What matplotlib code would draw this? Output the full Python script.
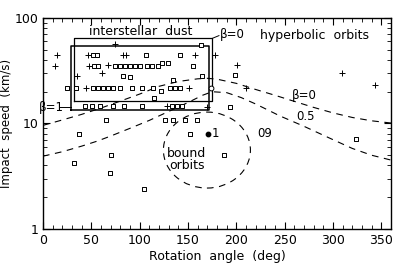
import matplotlib
matplotlib.use("Agg")
import matplotlib.pyplot as plt
from matplotlib.patches import Ellipse
from matplotlib.ticker import MultipleLocator, FixedLocator, FixedFormatter, NullFormatter, LogLocator

# measured impacts: open squares, plus signs, one filled dot
sq_x = [51.6, 55.7, 106.3, 141.4, 52.6, 56.8, 74.3, 79.4, 84.6, 89.8, 94.9, 100.1,
        107.3, 112.5, 118.7, 122.8, 129.0, 154.8, 82.6, 89.8, 134.2, 164.1,
        24.8, 34.1, 51.6, 56.8, 62.0, 67.1, 72.2, 79.5, 91.8, 102.2, 113.5, 121.8,
        131.1, 136.2, 141.4, 114.6, 43.3, 50.6, 58.8, 72.2, 83.6, 102.2, 133.1,
        138.3, 143.4, 65.0, 37.2, 125.9, 134.2, 146.5, 158.9, 163.0, 198.1, 193.0,
        151.7, 186.8, 32.0, 70.2, 69.1, 104.2, 324.0]
sq_y = [44.2, 44.2, 44.2, 44.2, 34.7, 34.7, 34.7, 34.7, 34.7, 34.7, 34.7, 34.7,
        34.7, 34.7, 34.7, 37.1, 37.1, 34.7, 27.9, 27.3, 25.6, 27.9,
        21.5, 21.5, 21.5, 21.5, 21.5, 21.5, 21.5, 21.5, 21.5, 21.5, 21.9, 20.1,
        21.9, 21.9, 21.9, 17.6, 14.5, 14.5, 14.5, 14.5, 14.5, 14.5, 14.5,
        14.5, 14.5, 10.7, 7.9, 10.7, 10.7, 10.7, 10.7, 56.0, 28.5, 14.2,
        7.9, 5.08, 4.26, 5.08, 3.36, 2.37, 7.2]
pl_x = [14.4, 12.4, 74.3, 46.4, 82.6, 85.7, 156.9, 47.5, 67.1, 60.9, 35.1, 44.4,
        150.7, 128.0, 169.2, 177.5, 200.2, 309.6, 343.7, 209.5]
pl_y = [44.2, 34.7, 56.1, 44.2, 44.2, 44.2, 44.2, 34.7, 36.2, 29.8, 27.9, 21.5,
        21.9, 14.5, 14.2, 44.2, 36.2, 29.8, 23.4, 21.5]
dot_x = [170.3]
dot_y = [8.0]
circ_x = [173.4]
circ_y = [21.5]

# boundary curves
b0_x = [0, 20, 40, 60, 80, 100, 120, 140, 160, 170, 180, 200, 220, 240, 260, 280, 300, 320, 340, 360]
b0_y = [9.6, 10.8, 12.2, 14.0, 16.3, 19.0, 22.5, 25.0, 26.5, 26.8, 26.3, 24.0, 21.0, 18.5, 16.2, 14.2,
        12.6, 11.4, 10.6, 10.1]
b05_x = [0, 20, 40, 56, 70, 90, 110, 130, 150, 165, 175, 190, 205, 220, 245, 270, 296, 320, 340, 360]
b05_y = [4.9, 5.4, 6.1, 6.8, 7.6, 9.0, 10.7, 13.0, 15.8, 18.5, 20.0, 19.6, 17.6, 15.3, 11.8, 9.4,
         7.3, 5.8, 5.0, 4.5]

# interstellar dust boxes (x0, x1, y0, y1)
box_b0 = (32, 175, 16.2, 64)
box_b1 = (29, 172, 13.3, 54)

fig = plt.figure(figsize=(4.15, 2.68), dpi=100)
ax = fig.add_axes([0.1036, 0.1455, 0.8386, 0.7875])

ax.plot(b0_x, b0_y, color="black", lw=0.8, ls=(0, (6, 5)))
ax.plot(b05_x, b05_y, color="black", lw=0.8, ls=(0, (6, 5)))

for (x0, x1, y0, y1), lw in [(box_b0, 0.9), (box_b1, 1.1)]:
    ax.plot([x0, x1, x1, x0, x0], [y0, y0, y1, y1, y0], color="black", lw=lw)

# bound orbit region
ell = Ellipse((0.471, 0.374), 0.25, 0.36, transform=ax.transAxes, fill=False,
              ec="black", lw=0.8, ls=(0, (6, 5)))
ax.add_patch(ell)

ax.scatter(sq_x, sq_y, marker="s", s=12, facecolors="white", edgecolors="black", lw=0.7, zorder=3)
ax.scatter(pl_x, pl_y, marker="+", s=14, color="black", lw=0.7, zorder=3)
ax.scatter(dot_x, dot_y, marker="o", s=10, color="black", zorder=3)
ax.scatter(circ_x, circ_y, marker="o", s=12, facecolors="white", edgecolors="black", lw=0.7, zorder=3)

ax.set_yscale("log")
ax.set_xlim(0, 360)
ax.set_ylim(1, 100)
ax.xaxis.set_major_locator(MultipleLocator(50))
ax.xaxis.set_minor_locator(MultipleLocator(10))
ax.yaxis.set_major_locator(FixedLocator([1, 10, 100]))
ax.yaxis.set_major_formatter(FixedFormatter(["1", "10", "100"]))
ax.yaxis.set_minor_locator(LogLocator(base=10, subs=range(2, 10)))
ax.yaxis.set_minor_formatter(NullFormatter())
ax.tick_params(which="both", direction="in", top=True, right=True, labelsize=9)
ax.tick_params(which="major", length=5, width=0.8)
ax.tick_params(which="minor", length=3, width=0.6)
for s in ax.spines.values():
    s.set_linewidth(1.0)

ax.set_xlabel("Rotation  angle  (deg)", fontsize=9, labelpad=2)
ax.set_ylabel("Impact  speed  (km/s)", fontsize=8.5)
ax.yaxis.set_label_coords(-0.085, 0.5)

ax.text(101, 74, "interstellar  dust", fontsize=9, ha="center", va="center")
ax.text(183, 70, "β=0", fontsize=8.5, ha="left", va="center")
ax.plot([175, 182], [64, 68], color="black", lw=0.7)
ax.text(281, 68, "hyperbolic  orbits", fontsize=9, ha="center", va="center")
ax.text(9, 14.2, "β=1", fontsize=8.5, ha="center", va="center")
ax.plot([17, 29], [14.2, 14.2], color="black", lw=0.7)
ax.text(270, 18.4, "β=0", fontsize=8.5, ha="center", va="center")
ax.text(272, 11.6, "0.5", fontsize=8.5, ha="center", va="center")
ax.text(222, 8.0, "09", fontsize=8.5, ha="left", va="center")
ax.text(174, 8.0, "1", fontsize=8.5, ha="left", va="center")
ax.text(148.6, 4.6, "bound\norbits", fontsize=9, ha="center", va="center", linespacing=0.9)

fig.savefig("out.png", dpi=100)
